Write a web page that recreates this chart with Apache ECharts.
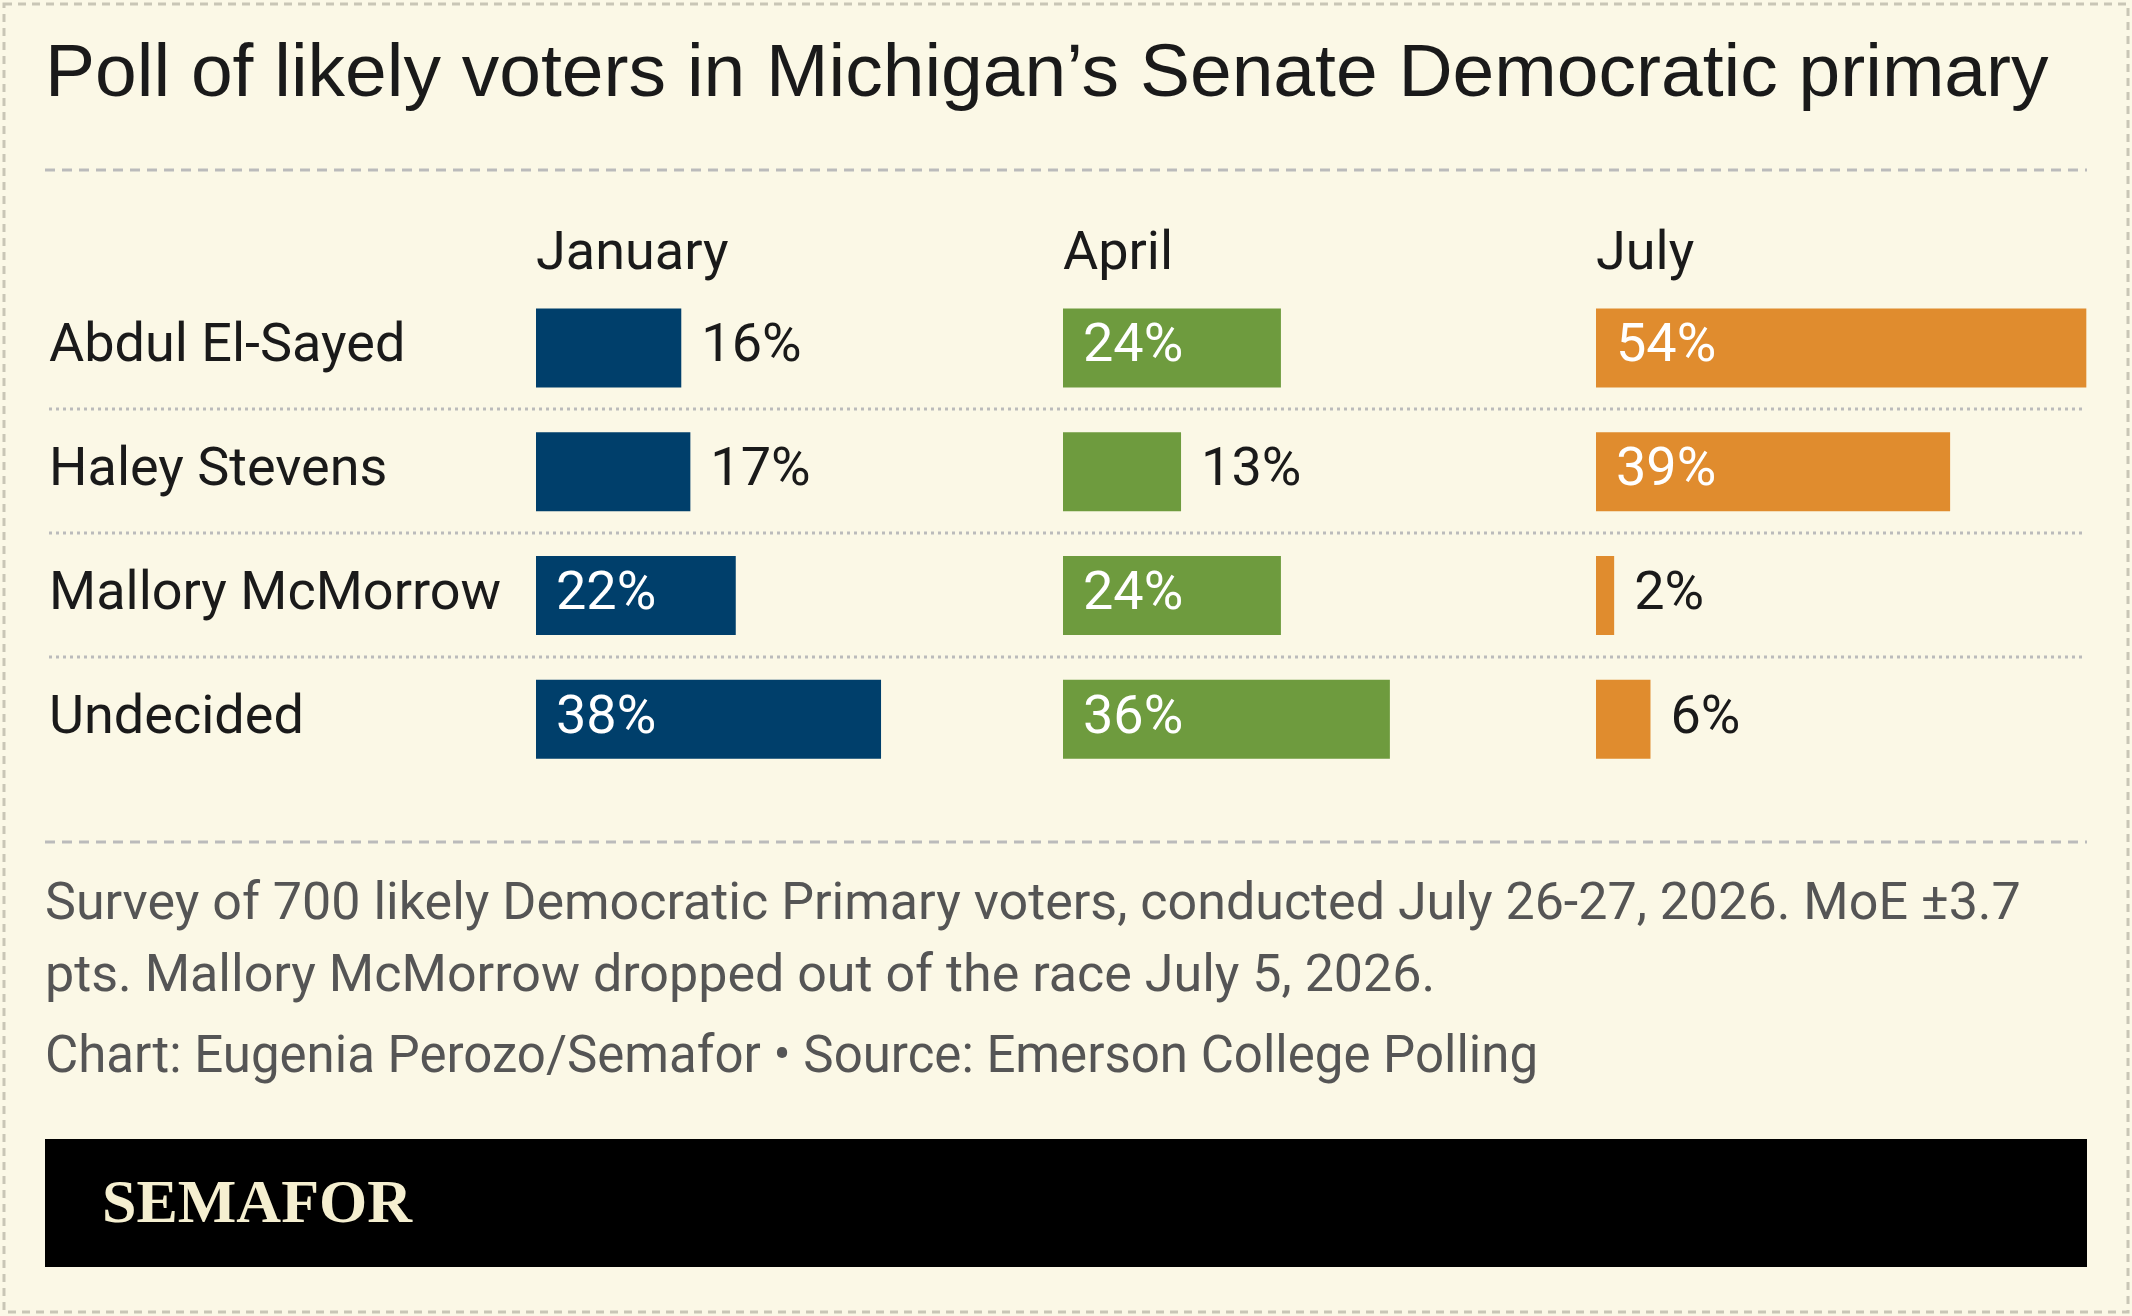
<!DOCTYPE html>
<html><head><meta charset="utf-8">
<script src="https://cdn.jsdelivr.net/npm/echarts@6/dist/echarts.min.js"></script>
<style>html,body{margin:0;padding:0;background:#fbf8e6}#c{width:2132px;height:1316px}</style>
</head><body><div id="c"></div>
<script>
const categories = ['Abdul El-Sayed','Haley Stevens','Mallory McMorrow','Undecided'];
const months = ['January','April','July'];
const january = [16,17,22,38];
const april = [24,13,24,36];
const july = [54,39,2,6];
const colors = ['#003f6b','#6e9b3e','#e08c2e'];
const series = [january, april, july];

const lefts = [536,1063,1596];
const pxPer = 9.08;
const MAX = 54;
const font = 'Roboto';
const grids = lefts.map(l => ({left:l, top:286, height:495, width:MAX*pxPer}));
const xAxes = grids.map((g,i)=>({gridIndex:i,type:'value',min:0,max:MAX,show:false}));
const yAxes = grids.map((g,i)=>({gridIndex:i,type:'category',data:categories,inverse:true,
  axisLine:{show:false},axisTick:{show:false},splitLine:{show:false},
  axisLabel:{show:i===0,align:'left',margin:487,color:'#1a1a1a',fontSize:54,fontFamily:font,padding:[10,0,0,0]}}));
const ser = series.map((d,i)=>({type:'bar',xAxisIndex:i,yAxisIndex:i,barWidth:79,
  itemStyle:{color:colors[i]},
  data:d.map(v=>({value:v,label:v>=20?
    {show:true,position:'insideLeft',color:'#fff',distance:20}:
    {show:true,position:'right',color:'#1a1a1a',distance:20}})),
  label:{formatter:p=>p.value+'%',fontSize:54,fontFamily:font,padding:[8,0,0,0]},
  silent:true,animation:false}));
const graphic = [
  {type:'rect',shape:{x:4,y:4,width:2124,height:1308},style:{fill:'none',stroke:'#c9c6b6',lineWidth:3,lineDash:[8,6]}},
  {type:'text',left:45,top:38,style:{text:'Poll of likely voters in Michigan\u2019s Senate Democratic primary',font:'75px "Liberation Sans", Arial',fill:'#1a1a1a'}},
  {type:'line',shape:{x1:45,y1:170,x2:2087,y2:170},style:{stroke:'#bbb',lineWidth:3,lineDash:[10,7]}},
  {type:'line',shape:{x1:45,y1:842,x2:2087,y2:842},style:{stroke:'#bbb',lineWidth:3,lineDash:[10,7]}},
  {type:'text',left:45,top:870,style:{text:'Survey of 700 likely Democratic Primary voters, conducted July 26-27, 2026. MoE \u00b13.7\npts. Mallory McMorrow dropped out of the race July 5, 2026.',font:'52px '+font,fill:'#555',lineHeight:72}},
  {type:'text',left:45,top:1034,style:{text:'Chart: Eugenia Perozo/Semafor \u2022 Source: Emerson College Polling',font:'51px '+font,fill:'#555'}},
  {type:'rect',shape:{x:45,y:1139,width:2042,height:128},style:{fill:'#000'}},
  {type:'text',left:102,top:1175,style:{text:'SEMAFOR',font:'bold 62px "Liberation Serif", serif',fill:'#f5efd0'}}
];
months.forEach((m,i)=>graphic.push({type:'text',left:lefts[i],top:228,style:{text:m,font:'54px '+font,fill:'#1a1a1a'}}));
[409,533,657].forEach(y=>graphic.push({type:'line',shape:{x1:49,y1:y,x2:2083,y2:y},style:{stroke:'#bbb',lineWidth:3,lineDash:[3,4]}}));
const chart = echarts.init(document.getElementById('c'));
chart.setOption({backgroundColor:'#fbf8e6',animation:false,grid:grids,xAxis:xAxes,yAxis:yAxes,series:ser,graphic});
</script></body></html>
